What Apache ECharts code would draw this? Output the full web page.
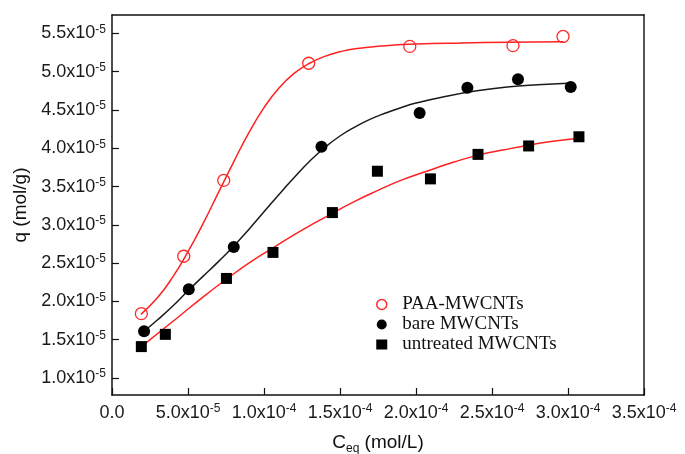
<!DOCTYPE html>
<html>
<head>
<meta charset="utf-8">
<title>Adsorption isotherms of MWCNTs</title>
<script src="https://cdn.jsdelivr.net/npm/echarts@6/dist/echarts.min.js"></script>
<style>
  html, body { margin: 0; padding: 0; background: #fff; }
  #chart { width: 685px; height: 454px; }
</style>
</head>
<body>
<div id="chart"></div>
<script>
// Equilibrium concentration C_eq in units of 1e-4 mol/L, uptake q in units of 1e-5 mol/g
const paaX = [0.193, 0.472, 0.735, 1.294, 1.959, 2.638, 2.967];
const paaY = [1.84, 2.59, 3.58, 5.11, 5.33, 5.34, 5.46];

const bareX = [0.211, 0.505, 0.801, 1.378, 2.024, 2.338, 2.671, 3.018];
const bareY = [1.61, 2.16, 2.71, 4.02, 4.46, 4.79, 4.90, 4.80];

const untreatedX = [0.193, 0.351, 0.753, 1.059, 1.450, 1.746, 2.095, 2.408, 2.741, 3.072];
const untreatedY = [1.41, 1.57, 2.30, 2.64, 3.16, 3.70, 3.60, 3.92, 4.03, 4.15];

// Fitted isotherm curves
const paaFitX = [0.19, 0.3, 0.4, 0.5, 0.6, 0.7, 0.8, 0.9, 1.0, 1.1, 1.2, 1.3, 1.4, 1.5, 1.6, 1.8, 2.0, 2.3, 2.6, 2.97];
const paaFitY = [1.83, 2.05, 2.32, 2.65, 3.02, 3.42, 3.82, 4.20, 4.53, 4.79, 4.98, 5.11, 5.20, 5.26, 5.30, 5.34, 5.36, 5.375, 5.385, 5.39];

const bareFitX = [0.211, 0.3, 0.4, 0.5, 0.6, 0.7, 0.8, 0.9, 1.0, 1.1, 1.2, 1.3, 1.4, 1.5, 1.6, 1.7, 1.8, 1.9, 2.0, 2.2, 2.4, 2.6, 2.8, 3.0];
const bareFitY = [1.61, 1.76, 1.94, 2.14, 2.33, 2.52, 2.72, 2.94, 3.17, 3.40, 3.62, 3.83, 4.01, 4.16, 4.28, 4.38, 4.46, 4.53, 4.59, 4.68, 4.75, 4.80, 4.83, 4.85];

const untreatedFitX = [0.193, 0.42, 0.60, 0.753, 0.90, 1.06, 1.25, 1.45, 1.60, 1.75, 1.90, 2.10, 2.25, 2.41, 2.58, 2.74, 2.90, 3.07];
const untreatedFitY = [1.41, 1.77, 2.06, 2.29, 2.50, 2.70, 2.93, 3.15, 3.31, 3.45, 3.58, 3.72, 3.82, 3.91, 3.98, 4.04, 4.09, 4.13];

// Axis tick values (same units as the data)
const xTicks = [0, 0.5, 1.0, 1.5, 2.0, 2.5, 3.0, 3.5];
const yTicks = [1.0, 1.5, 2.0, 2.5, 3.0, 3.5, 4.0, 4.5, 5.0, 5.5];

const legendNames = ['PAA-MWCNTs', 'bare MWCNTs', 'untreated MWCNTs'];

const pairs = (xs, ys) => xs.map((x, i) => [x, ys[i]]);

const sansFont = 'Liberation Sans, Arial, sans-serif';
const sciRich = {
  m: { fontSize: 18, lineHeight: 20, fontFamily: sansFont, color: '#1a1a1a' },
  s: { fontSize: 12, lineHeight: 12, verticalAlign: 'top', fontFamily: sansFont, color: '#1a1a1a' }
};

function xLabel(v) {
  if (Math.abs(v) < 1e-9) return '{m|0.0}';
  if (v < 1) return '{m|' + (v * 10).toFixed(1) + 'x10}{s|-5}';
  return '{m|' + v.toFixed(1) + 'x10}{s|-4}';
}
function yLabel(v) {
  return '{m|' + v.toFixed(1) + 'x10}{s|-5}';
}

const chart = echarts.init(document.getElementById('chart'), null, { renderer: 'canvas' });

function fitSeries(name, xs, ys, color) {
  return {
    name: name, type: 'line', smooth: 0.5, showSymbol: false, silent: true,
    data: pairs(xs, ys),
    lineStyle: { color: color, width: 1.5 }, z: 2
  };
}

chart.setOption({
  animation: false,
  backgroundColor: '#fff',
  grid: { left: 112, right: 41, top: 15, bottom: 59, outerBoundsMode: 'none', containLabel: false },
  legend: {
    orient: 'vertical',
    left: 371,
    top: 290,
    itemGap: 1,
    itemWidth: 11,
    itemHeight: 10,
    textStyle: { fontFamily: 'Liberation Serif, Times New Roman, serif', fontSize: 19, lineHeight: 19, color: '#111', padding: [0, 0, 0, 10] },
    data: [
      { name: legendNames[0], icon: 'circle', itemStyle: { color: '#fff', borderColor: '#ff2a2a', borderWidth: 1.5 } },
      { name: legendNames[1], icon: 'circle', itemStyle: { color: '#000', borderWidth: 0 } },
      { name: legendNames[2], icon: 'rect', itemStyle: { color: '#000', borderWidth: 0 } }
    ]
  },
  xAxis: [{
    type: 'value',
    min: 0,
    max: 3.5,
    interval: 0.5,
    name: '{c|C}{sub|eq}{c| (mol/L)}',
    nameLocation: 'middle',
    nameGap: 36,
    nameTextStyle: {
      rich: {
        c: { fontSize: 19, lineHeight: 24, fontFamily: sansFont, color: '#111' },
        sub: { fontSize: 12, lineHeight: 12, verticalAlign: 'bottom', fontFamily: sansFont, color: '#111' }
      }
    },
    axisLine: { show: true, onZero: false, lineStyle: { color: '#111', width: 1.5 } },
    axisTick: { show: true, inside: true, length: 7, lineStyle: { color: '#111', width: 1.2 }, customValues: xTicks },
    axisLabel: { margin: 8, formatter: xLabel, rich: sciRich, customValues: xTicks },
    splitLine: { show: false }
  }, {
    type: 'value', position: 'top', min: 0, max: 3.5,
    axisLine: { show: true, onZero: false, lineStyle: { color: '#111', width: 1.5 } },
    axisTick: { show: false }, axisLabel: { show: false }, splitLine: { show: false }
  }],
  yAxis: [{
    type: 'value',
    min: 0.778,
    max: 5.74,
    name: 'q (mol/g)',
    nameLocation: 'middle',
    nameGap: 82,
    nameTextStyle: { fontSize: 19, fontFamily: sansFont, color: '#111' },
    axisLine: { show: true, onZero: false, lineStyle: { color: '#111', width: 1.5 } },
    axisTick: { show: true, inside: true, length: 7, lineStyle: { color: '#111', width: 1.2 }, customValues: yTicks },
    axisLabel: { margin: 6, formatter: yLabel, rich: sciRich, customValues: yTicks },
    splitLine: { show: false }
  }, {
    type: 'value', position: 'right', min: 0.778, max: 5.74,
    axisLine: { show: true, onZero: false, lineStyle: { color: '#555', width: 2 } },
    axisTick: { show: false }, axisLabel: { show: false }, splitLine: { show: false }
  }],
  series: [
    fitSeries('PAA fit', paaFitX, paaFitY, '#ff2020'),
    fitSeries('bare fit', bareFitX, bareFitY, '#1a1a1a'),
    fitSeries('untreated fit', untreatedFitX, untreatedFitY, '#ff2020'),
    {
      name: legendNames[0], type: 'scatter', symbol: 'circle', symbolSize: 12,
      data: pairs(paaX, paaY),
      itemStyle: { color: 'rgba(255,255,255,0)', borderColor: '#ff2a2a', borderWidth: 1.3, opacity: 1 }, z: 3
    },
    {
      name: legendNames[1], type: 'scatter', symbol: 'circle', symbolSize: 12,
      data: pairs(bareX, bareY),
      itemStyle: { color: '#000', opacity: 1 }, z: 3
    },
    {
      name: legendNames[2], type: 'scatter', symbol: 'rect', symbolSize: 11,
      data: pairs(untreatedX, untreatedY),
      itemStyle: { color: '#000', opacity: 1 }, z: 3
    }
  ]
});
</script>
</body>
</html>
